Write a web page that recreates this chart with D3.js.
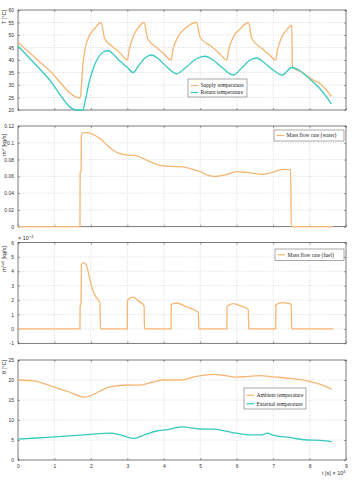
<!DOCTYPE html>
<html>
<head>
<meta charset="utf-8">
<script src="https://cdn.jsdelivr.net/npm/d3@7"></script>
<style>
  body { margin: 0; background: #fff; }
  .tick text { font-family: "Liberation Sans", Arial, sans-serif; font-size: 5px; fill: #333; }
  .lab { font-family: "Liberation Sans", Arial, sans-serif; font-size: 5.5px; fill: #333; }
  .leg { font-family: "Liberation Serif", "DejaVu Serif", serif; font-size: 5.5px; fill: #222; }
</style>
</head>
<body>
<div id="chart"></div>
<script>
// time in units of 1e4 s
const supplyT = [0, 0.85, 1.70, 1.72, 1.78, 1.85, 1.95, 2.1, 2.28, 2.38, 2.6, 2.8, 3.0, 3.05, 3.15, 3.3, 3.46, 3.56, 3.8, 4.0, 4.2, 4.25, 4.4, 4.6, 4.9, 5.0, 5.3, 5.5, 5.73, 5.78, 5.92, 6.1, 6.32, 6.42, 6.7, 6.9, 7.07, 7.12, 7.25, 7.4, 7.51, 7.53, 7.8, 8.1, 8.3, 8.45, 8.6];
const supplyV = [47, 36, 24.8, 26, 38, 45, 49.5, 52.5, 55, 48.5, 45.3, 42.8, 40, 44, 49, 53, 55, 48.5, 45, 42.5, 40, 44, 49.5, 52.8, 55, 49, 45.5, 43, 40, 44, 49.5, 52.5, 55, 48.5, 44.5, 42, 40, 44, 49.5, 52.5, 54, 37.3, 35, 32, 30.4, 28.2, 25.5];

const returnT = [0, 0.8, 1.61, 1.78, 1.85, 1.95, 2.05, 2.2, 2.35, 2.48, 2.6, 2.8, 3.0, 3.16, 3.3, 3.5, 3.67, 3.85, 4.1, 4.35, 4.6, 4.9, 5.13, 5.35, 5.6, 5.91, 6.15, 6.35, 6.55, 6.75, 7.0, 7.25, 7.51, 7.7, 8.0, 8.3, 8.6];
const returnV = [45.6, 33.2, 20, 20, 24, 31, 36, 41, 43.3, 43.7, 42.5, 39.5, 37, 35, 37.5, 41, 42, 40.5, 37, 34.5, 37, 40.5, 41.5, 40, 37, 34, 37, 39.8, 40.8, 39, 36, 34, 37, 36, 32.5, 28.3, 22.4];

const waterT = [0, 1.70, 1.705, 1.73, 1.74, 1.8, 1.9, 2.05, 2.25, 2.45, 2.6, 2.8, 2.98, 3.26, 3.45, 3.62, 3.9, 4.2, 4.45, 4.75, 5.0, 5.2, 5.4, 5.7, 6.0, 6.3, 6.73, 7.0, 7.28, 7.48, 7.5, 8.65];
const waterV = [0, 0, 0.065, 0.066, 0.11, 0.112, 0.112, 0.11, 0.105, 0.097, 0.0914, 0.087, 0.0855, 0.0845, 0.081, 0.0775, 0.073, 0.0718, 0.0716, 0.069, 0.0656, 0.0615, 0.0598, 0.062, 0.0656, 0.0645, 0.0624, 0.065, 0.0684, 0.068, 0, 0];

// fuel flow, units of 1e-4 kg/s
const fuelT = [0, 1.70, 1.705, 1.73, 1.74, 1.8, 1.86, 1.95, 2.02, 2.12, 2.25, 2.26, 3.0, 3.005, 3.16, 3.3, 3.46, 3.47, 4.2, 4.205, 4.35, 4.6, 4.95, 4.96, 5.73, 5.735, 5.91, 6.1, 6.32, 6.33, 7.07, 7.075, 7.25, 7.4, 7.5, 7.51, 8.65];
const fuelV = [0, 0, 1.6, 1.7, 4.5, 4.6, 4.5, 3.7, 2.94, 2.3, 1.79, 0, 0, 2.0, 2.2, 1.95, 1.6, 0, 0, 1.7, 1.8, 1.55, 1.15, 0, 0, 1.56, 1.75, 1.6, 1.35, 0, 0, 1.68, 1.83, 1.78, 1.7, 0, 0];

const ambientT = [0, 0.42, 1.0, 1.4, 1.84, 2.2, 2.52, 3.0, 3.35, 3.7, 3.99, 4.45, 4.9, 5.36, 5.7, 6.0, 6.3, 6.64, 7.0, 7.46, 7.92, 8.3, 8.61];
const ambientV = [20, 19.8, 18.2, 17, 15.7, 17, 18.3, 18.75, 18.7, 19.5, 20, 20, 20.9, 21.4, 21.1, 20.7, 20.9, 21.1, 20.8, 20.4, 19.8, 18.9, 17.7];

const externalT = [0, 0.5, 1.0, 1.5, 1.98, 2.52, 2.8, 3.16, 3.5, 3.8, 4.1, 4.49, 4.99, 5.36, 5.7, 6.0, 6.37, 6.69, 6.84, 7.0, 7.46, 7.92, 8.3, 8.61];
const externalV = [5.2, 5.5, 5.8, 6.1, 6.4, 6.7, 6.3, 5.4, 6.4, 7.25, 7.6, 8.3, 7.75, 7.7, 7.2, 6.7, 6.3, 6.3, 6.7, 6.2, 5.6, 5.0, 4.9, 4.6];

const xTicks = [0, 1, 2, 3, 4, 5, 6, 7, 8, 9];
const tempTicks = [20, 25, 30, 35, 40, 45, 50, 55, 60];
const waterTicks = [0, 0.02, 0.04, 0.06, 0.08, 0.1, 0.12];
const fuelTicks = [-1, 0, 1, 2, 3, 4, 5, 6];
const envTicks = [0, 5, 10, 15, 20, 25];

const ORANGE = "#f6b673";
const TEAL = "#36c9bf";

const W = 363, H = 480;
const x0 = 18, x1 = 346;

const svg = d3.select("#chart").append("svg")
    .attr("width", W)
    .attr("height", H);

const x = d3.scaleLinear().domain([0, 9]).range([x0, x1]);

const panels = [
    { top: 10, bottom: 110, domain: [20, 60], ticks: tempTicks, fmt: d => d,
      series: [[supplyT, supplyV, ORANGE], [returnT, returnV, TEAL]],
      ylabel: "T [°C]", ylabelY: 17,
      legend: { x: 188, y: 79, w: 59, h: 18, items: [["Supply temperature", ORANGE], ["Return temperature", TEAL]] } },
    { top: 126, bottom: 226.7, domain: [0, 0.12], ticks: waterTicks, fmt: d => d,
      series: [[waterT, waterV, ORANGE]],
      ylabel: "ṁʷ [kg/s]", ylabelY: 145,
      legend: { x: 274, y: 130, w: 70, h: 11, items: [["Mass flow rate (water)", ORANGE]] } },
    { top: 242.5, bottom: 343.3, domain: [-1, 6], ticks: fuelTicks, fmt: d => d,
      series: [[fuelT, fuelV, ORANGE]],
      ylabel: "ṁᶠᵘᵉˡ [kg/s]", ylabelY: 259,
      legend: { x: 275, y: 249, w: 69, h: 11.5, items: [["Mass flow rate (fuel)", ORANGE]] } },
    { top: 360, bottom: 460, domain: [0, 25], ticks: envTicks, fmt: d => d,
      series: [[ambientT, ambientV, ORANGE], [externalT, externalV, TEAL]],
      ylabel: "θ [°C]", ylabelY: 367,
      legend: { x: 244, y: 388, w: 62, h: 21, items: [["Ambient temperature", ORANGE], ["External temperature", TEAL]] } }
];

panels.forEach((p, i) => {
    const y = d3.scaleLinear().domain(p.domain).range([p.bottom, p.top]);
    const g = svg.append("g");

    // grid
    g.append("g").selectAll("line.vg")
        .data(xTicks.slice(1, -1)).enter().append("line")
        .attr("x1", d => x(d)).attr("x2", d => x(d))
        .attr("y1", p.top).attr("y2", p.bottom)
        .attr("stroke", "#bbb").attr("stroke-width", 0.5).attr("stroke-dasharray", "1,1.5");
    g.append("g").selectAll("line.hg")
        .data(p.ticks.slice(1, -1)).enter().append("line")
        .attr("x1", x0).attr("x2", x1)
        .attr("y1", d => y(d)).attr("y2", d => y(d))
        .attr("stroke", "#bbb").attr("stroke-width", 0.5).attr("stroke-dasharray", "1,1.5");

    // axes
    const left = g.append("g").attr("transform", `translate(${x0},0)`)
        .call(d3.axisLeft(y).tickValues(p.ticks).tickFormat(p.fmt).tickSize(-2).tickPadding(4));
    const right = g.append("g").attr("transform", `translate(${x1},0)`)
        .call(d3.axisRight(y).tickValues(p.ticks).tickSize(-2).tickFormat(""));
    const bottom = g.append("g").attr("transform", `translate(0,${p.bottom})`)
        .call(d3.axisBottom(x).tickValues(xTicks).tickSize(-2).tickPadding(4)
            .tickFormat(i === 3 ? d => d : ""));
    const topAx = g.append("g").attr("transform", `translate(0,${p.top})`)
        .call(d3.axisTop(x).tickValues(xTicks).tickSize(-2).tickFormat(""));
    [left, right, bottom, topAx].forEach(a => {
        a.select(".domain").remove();
        a.selectAll(".tick line").attr("stroke", "#444").attr("stroke-width", 0.5);
    });

    g.append("rect")
        .attr("x", x0).attr("y", p.top)
        .attr("width", x1 - x0).attr("height", p.bottom - p.top)
        .attr("fill", "none").attr("stroke", "#444").attr("stroke-width", 0.7);

    // lines
    p.series.forEach(([ts, vs, color]) => {
        const pts = ts.map((t, k) => [t, vs[k]]);
        g.append("path")
            .datum(pts)
            .attr("fill", "none")
            .attr("stroke", color)
            .attr("stroke-width", 1.3)
            .attr("d", d3.line().x(d => x(d[0])).y(d => y(d[1])).curve(d3.curveMonotoneX));
    });

    // y label
    g.append("text").attr("class", "lab")
        .attr("transform", `translate(6,${p.ylabelY}) rotate(-90)`)
        .attr("text-anchor", "middle")
        .text(p.ylabel);

    // legend
    const L = p.legend;
    const lg = g.append("g");
    lg.append("rect").attr("x", L.x).attr("y", L.y).attr("width", L.w).attr("height", L.h)
        .attr("fill", "#fff").attr("stroke", "#555").attr("stroke-width", 0.5);
    const step = L.items.length > 1 ? (L.h - 4) / L.items.length : 0;
    L.items.forEach(([name, color], k) => {
        const cy = L.items.length > 1 ? L.y + 3 + step * (k + 0.5) : L.y + L.h / 2;
        lg.append("line").attr("x1", L.x + 2.5).attr("x2", L.x + 10)
            .attr("y1", cy).attr("y2", cy).attr("stroke", color).attr("stroke-width", 1.2);
        lg.append("text").attr("class", "leg")
            .attr("x", L.x + 12.5).attr("y", cy + 1.8).text(name);
    });
});

// exponent labels
svg.append("text").attr("class", "lab")
    .attr("x", 18).attr("y", 240)
    .html('× 10<tspan dy="-2" font-size="4px">−4</tspan>');
svg.append("text").attr("class", "lab")
    .attr("x", 322).attr("y", 475)
    .html('t [s] × 10<tspan dy="-2" font-size="4px">4</tspan>');
</script>
</body>
</html>
